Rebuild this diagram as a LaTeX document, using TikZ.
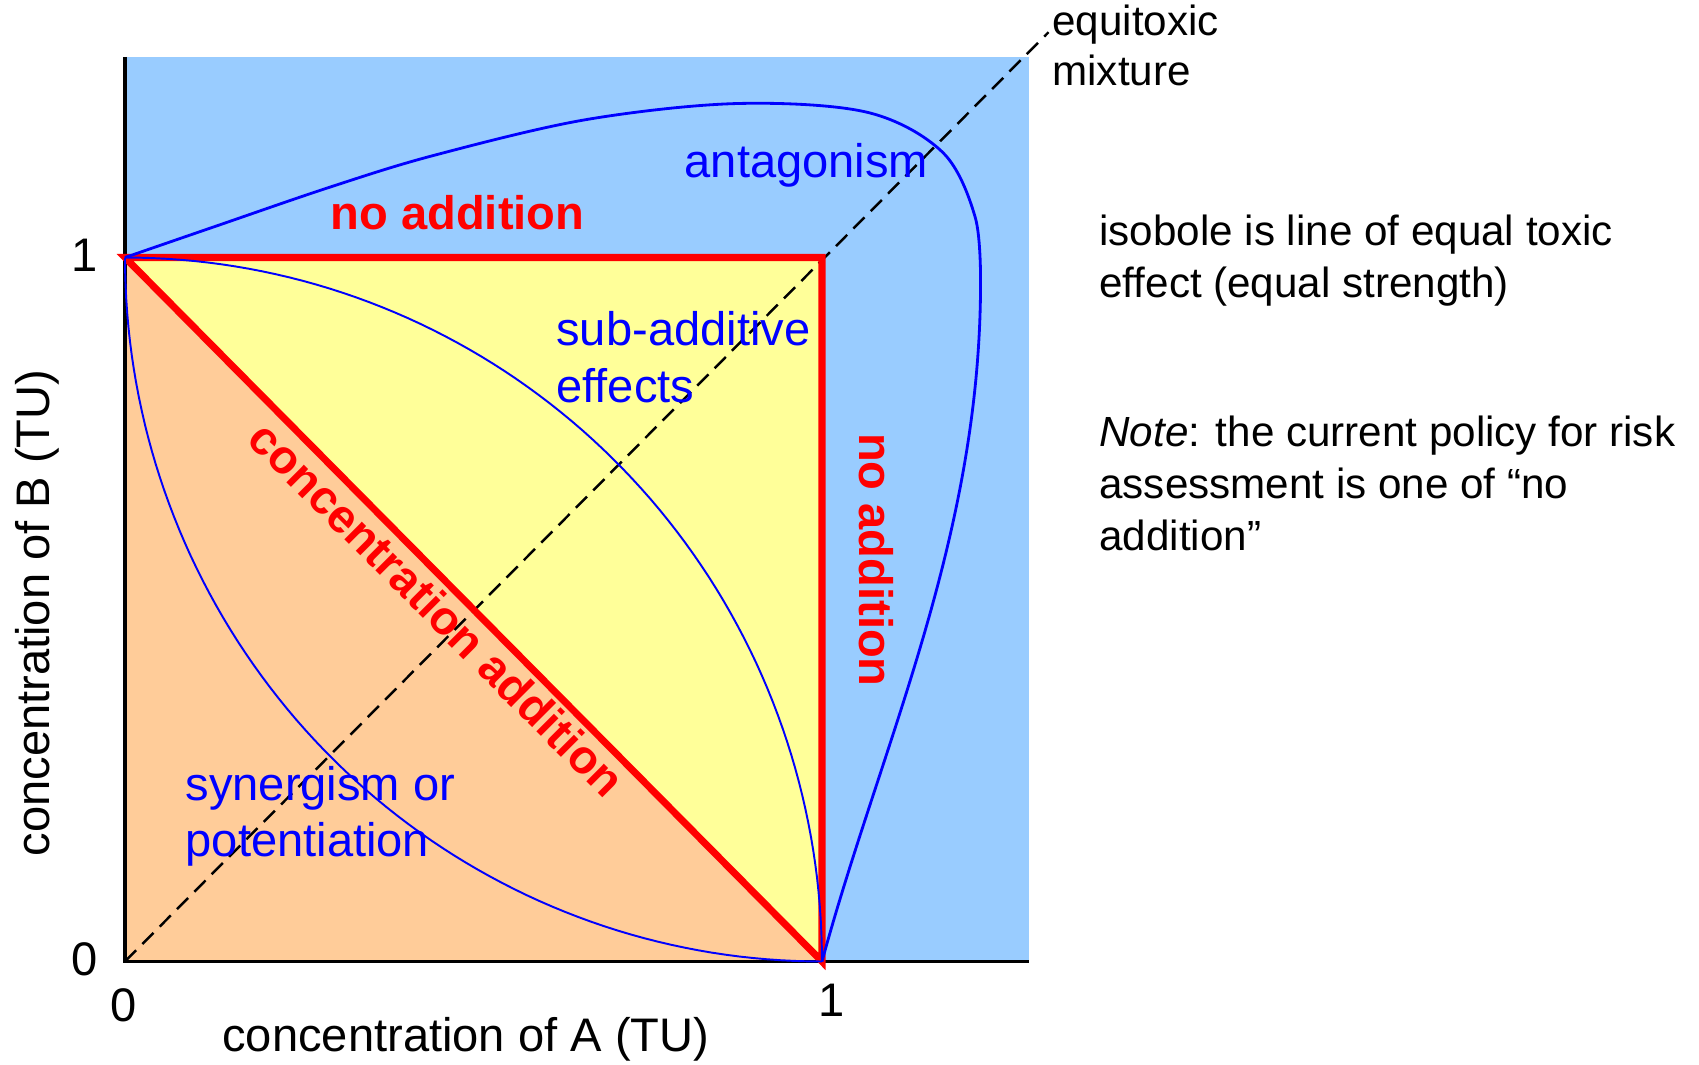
\documentclass[tikz,border=0pt]{standalone}
\usepackage{fontspec}
\setmainfont{Liberation Sans}
\definecolor{skyblue}{HTML}{99CCFF}
\definecolor{paleyellow}{HTML}{FFFF99}
\definecolor{peach}{HTML}{FFCC99}
\newcommand{\lblfont}{\fontsize{13.4}{16.1}\selectfont}
\newcommand{\notefont}{\fontsize{12}{14.7}\selectfont}
\begin{document}
\begin{tikzpicture}[x=6.97cm,y=7.04cm,
	region/.style={blue,font=\lblfont,align=left,anchor=base west,inner sep=0pt},
	redlbl/.style={red,font=\lblfont\bfseries,inner sep=0pt},
	note/.style={font=\notefont,align=left,anchor=base west,inner sep=0pt},
	tick/.style={font=\lblfont,inner sep=0pt}]
	\useasboundingbox (-1.25cm,-1.025cm) rectangle (15.74cm,9.615cm);
	\coordinate (O) at (0,0);
	\coordinate (A1) at (1,0);
	\coordinate (B1) at (0,1);
	\coordinate (C) at (1,1);
	\coordinate (E) at (1.325,1.32);
	\fill[skyblue] (O) rectangle (1.297,1.285);
	\fill[paleyellow] (B1) -- (C) -- (A1) -- cycle;
	\fill[peach] (O) -- (A1) -- (B1) -- cycle;
	\draw[dash pattern=on 4.5pt off 2.5pt,line width=0.7pt] (O) -- (E);
	\draw[line width=1pt] (0,1.285) -- (O) -- (1.297,0);
	\draw[red,line width=2pt,line join=miter] (B1) -- (C) -- (A1) -- cycle;
	% isoboles
	\draw[blue,line width=0.55pt,samples=80] plot[domain=90:0] ({cos(\x)},{sin(\x)});
	\draw[blue,line width=0.55pt,samples=80] plot[domain=180:270] ({1+cos(\x)},{1+sin(\x)});
	\draw[blue,line width=0.8pt] plot[smooth,tension=0.55] coordinates {(0,1) (0.1316,1.0449) (0.2948,1.1002) (0.4425,1.1449) (0.66,1.1956) (0.8777,1.2187) (1.0643,1.2064) (1.173,1.1495) (1.2198,1.0572) (1.2275,0.965)}
		.. controls (1.2275,0.6) and (1.085,0.31) .. (A1);
	% labels
	\node[region] (antag) at (0.802,1.114) {antagonism};
	\node[redlbl,anchor=base west] (noaddtop) at (0.294,1.040) {no addition};
	\node[region] (subadd) at (0.618,0.7945) {sub-additive\\effects};
	\node[region] (synerg) at (0.086,0.1488) {synergism or\\potentiation};
	\node[redlbl,rotate=-45,anchor=base] (concadd) at (0.431,0.484) {concentration addition};
	\node[redlbl,rotate=-90,anchor=base] (noaddright) at (1.054,0.5705) {no addition};
	\node[note,font={\fontsize{12}{14.2}\selectfont}] (equitox) at (1.3296,1.2441) {equitoxic\\mixture};
	\node[note] (isobole) at (1.397,0.9437) {isobole is line of equal toxic\\effect (equal strength)};
	\node[note] (policy) at (1.397,0.5841) {\textit{Note}: the current policy for risk\\assessment is one of “no\\addition”};
	\node[tick,anchor=base] (xlab) at (0.489,-0.128) {concentration of A (TU)};
	\node[tick,anchor=base,rotate=90] (ylab) at (-0.1076,0.495) {concentration of B (TU)};
	\foreach \t/\px/\py in {0/-0.0024/-0.0854,1/1.0143/-0.0788}{\node[tick,anchor=base] (xt\t) at (\px,\py) {\t};}
	\foreach \t/\py in {0/-0.0192,1/0.9805}{\node[tick,anchor=base east] (yt\t) at (-0.0387,\py) {\t};}
\end{tikzpicture}
\end{document}
